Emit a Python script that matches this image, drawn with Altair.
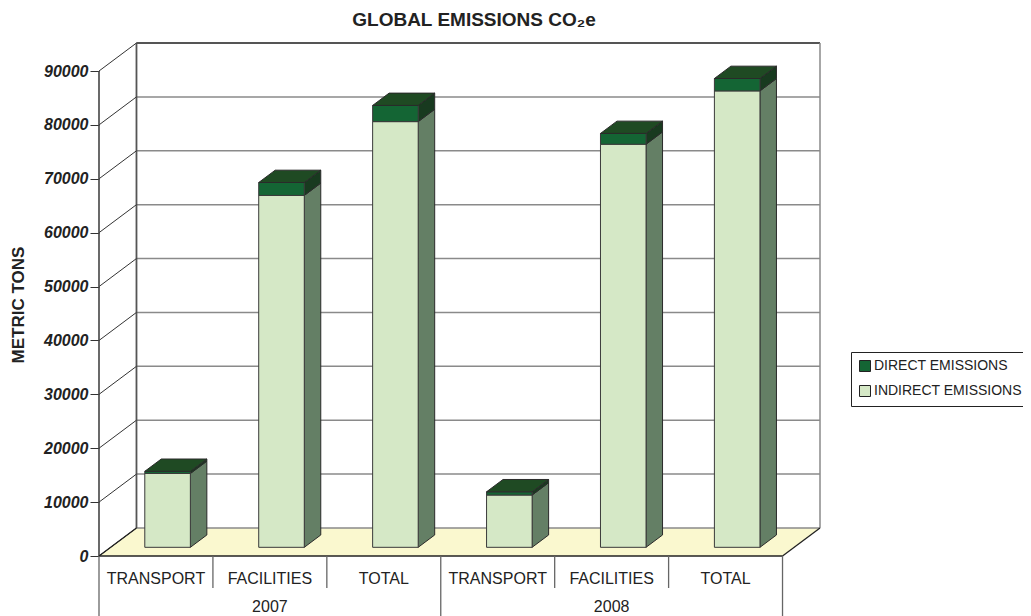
import altair as alt
import pandas as pd

# ---- data ----
years = ["2007", "2007", "2007", "2008", "2008", "2008"]
categories = ["TRANSPORT", "FACILITIES", "TOTAL", "TRANSPORT", "FACILITIES", "TOTAL"]
indirect = [13700, 65300, 79000, 9700, 74800, 84700]
direct = [400, 2400, 3000, 600, 2000, 2300]
series = ["DIRECT EMISSIONS", "INDIRECT EMISSIONS"]
ticks = [0, 10000, 20000, 30000, 40000, 50000, 60000, 70000, 80000, 90000]
year_list = ["2007", "2008"]

# ---- pseudo-3D geometry (in data units) ----
DX = 0.329      # depth shift along x (category slots)
DY = 5200       # depth shift along y (value units)
F0, F1 = 0.31, 0.75   # bar depth range (fraction of floor depth)
BW = 0.4        # bar width (fraction of slot)
NS = len(categories)
TOPV = ticks[-1]
YMAX = TOPV + DY
W, H = 721, 513

FONT = "Liberation Sans"
C_IND, C_IND_SIDE = "#D5E8C6", "#647F65"
C_DIR, C_DIR_SIDE, C_DIR_TOP = "#146534", "#183A1F", "#1F4A23"

xscale = alt.Scale(domain=[0, NS + DX], nice=False, zero=False)
yscale = alt.Scale(domain=[0, YMAX], nice=False, zero=False)
yaxis = alt.Axis(values=ticks, grid=False, domain=False, tickSize=9, tickColor="#333",
                 tickWidth=1, labelPadding=2, labelFont=FONT, labelFontSize=16,
                 labelFontWeight="bold", labelFontStyle="italic", labelColor="#222",
                 title=None, format="d")


def X(f):
    return alt.X(f, type="quantitative", scale=xscale, axis=None)


def Y(f):
    return alt.Y(f, type="quantitative", scale=yscale, axis=yaxis)


# build bar pieces
fronts, sides_ind, sides_dir, tops = [], [], [], []
for i in range(NS):
    xl = i + 0.5 - BW / 2 + F0 * DX
    xr = xl + BW
    d = F1 - F0
    segs = [("INDIRECT EMISSIONS", 0, indirect[i]),
            ("DIRECT EMISSIONS", indirect[i], indirect[i] + direct[i])]
    for s, lo, hi in segs:
        fronts.append(dict(series=s, x=xl, x2=xr, y=lo + F0 * DY, y2=hi + F0 * DY))
        tgt = sides_ind if s.startswith("INDIRECT") else sides_dir
        fid = f"{i}-{s}"
        tgt.append(dict(face=fid, x=xr, y=lo + F0 * DY, y2=hi + F0 * DY))
        tgt.append(dict(face=fid, x=xr + d * DX, y=lo + F1 * DY, y2=hi + F1 * DY))
    top = indirect[i] + direct[i]
    tops.append(dict(face=i, y=top + F0 * DY, x=xl, x2=xr))
    tops.append(dict(face=i, y=top + F1 * DY, x=xl + d * DX, x2=xr + d * DX))

fronts = pd.DataFrame(fronts)
sides_ind = pd.DataFrame(sides_ind)
sides_dir = pd.DataFrame(sides_dir)
tops = pd.DataFrame(tops)

# walls / floor
floor = pd.DataFrame(dict(y=[0, DY], x=[0, DX], x2=[NS, NS + DX]))
grid = pd.DataFrame(dict(x=[DX] * len(ticks), x2=[NS + DX] * len(ticks),
                         y=[v + DY for v in ticks]))
slants = pd.DataFrame(dict(x=[0] * len(ticks), x2=[DX] * len(ticks), y=ticks,
                           y2=[v + DY for v in ticks]))
back_edges = pd.DataFrame(dict(x=[DX, DX], x2=[DX, NS + DX], y=[DY, YMAX], y2=[YMAX, YMAX]))
right_edge = pd.DataFrame(dict(x=[NS + DX], y=[DY], y2=[YMAX]))
front_axis = pd.DataFrame(dict(x=[0], y=[0], y2=[TOPV]))
floor_edges = pd.DataFrame(dict(x=[0, NS, 0], x2=[NS, NS + DX, DX], y=[0, 0, 0], y2=[0, DY, DY]))

# category table
cat_df = pd.DataFrame(dict(x=[i + 0.5 for i in range(NS)], label=categories))
year_df = pd.DataFrame(dict(x=[1.5, 4.5], label=year_list))
short_div = pd.DataFrame(dict(x=[1, 2, 4, 5]))
long_div = pd.DataFrame(dict(x=[0, 3, 6]))

layers = [
    alt.Chart(floor).mark_area(orient="horizontal", fill="#FAF8CF", stroke=None)
    .encode(y=Y("y"), x=X("x"), x2="x2"),
    alt.Chart(grid).mark_rule(color="#8A8A8A", strokeWidth=1.5)
    .encode(x=X("x"), x2="x2", y=Y("y")),
    alt.Chart(back_edges).mark_rule(color="#555", strokeWidth=1.8)
    .encode(x=X("x"), x2="x2", y=Y("y"), y2="y2"),
    alt.Chart(right_edge).mark_rule(color="#8A8A8A", strokeWidth=1.5)
    .encode(x=X("x"), y=Y("y"), y2="y2"),
    alt.Chart(slants).mark_rule(color="#333", strokeWidth=1)
    .encode(x=X("x"), x2="x2", y=Y("y"), y2="y2"),
    alt.Chart(front_axis).mark_rule(color="#444", strokeWidth=1.6)
    .encode(x=X("x"), y=Y("y"), y2="y2"),
    alt.Chart(floor_edges).mark_rule(color="#222", strokeWidth=1.3)
    .encode(x=X("x"), x2="x2", y=Y("y"), y2="y2"),
    # bars
    alt.Chart(sides_ind).mark_area(fill=C_IND_SIDE, stroke="#2a2a2a", strokeWidth=1)
    .encode(x=X("x"), y=Y("y"), y2="y2", detail="face:N"),
    alt.Chart(sides_dir).mark_area(fill=C_DIR_SIDE, stroke="#2a2a2a", strokeWidth=1)
    .encode(x=X("x"), y=Y("y"), y2="y2", detail="face:N"),
    alt.Chart(fronts).mark_rect(stroke="#3a3a3a", strokeWidth=1)
    .encode(x=X("x"), x2="x2", y=Y("y"), y2="y2",
            color=alt.Color("series:N",
                            scale=alt.Scale(domain=series, range=[C_DIR, C_IND]),
                            legend=alt.Legend(orient="none", legendX=752, legendY=309,
                                              title=None, padding=7, strokeColor="#222",
                                              fillColor="white", symbolType="square",
                                              symbolSize=121, symbolStrokeColor="#222",
                                              symbolStrokeWidth=1, labelFont=FONT,
                                              labelFontSize=14, labelColor="#222",
                                              labelOffset=2, rowPadding=9))),
    alt.Chart(tops).mark_area(orient="horizontal", fill=C_DIR_TOP, stroke="#2a2a2a",
                              strokeWidth=1)
    .encode(y=Y("y"), x=X("x"), x2="x2", detail="face:N"),
    # category table
    alt.Chart(short_div).mark_rule(color="#666", strokeWidth=1.3)
    .encode(x=X("x"), y=alt.value(H), y2=alt.value(H + 32)),
    alt.Chart(long_div).mark_rule(color="#666", strokeWidth=1.3)
    .encode(x=X("x"), y=alt.value(H), y2=alt.value(H + 70)),
    alt.Chart(cat_df).mark_text(font=FONT, fontSize=16, color="#222", baseline="middle")
    .encode(x=X("x"), y=alt.value(H + 23), text="label:N"),
    alt.Chart(year_df).mark_text(font=FONT, fontSize=16, color="#222", baseline="middle")
    .encode(x=X("x"), y=alt.value(H + 51), text="label:N"),
    # titles
    alt.Chart(pd.DataFrame(dict(t=["GLOBAL EMISSIONS CO\u2082e"])))
    .mark_text(font=FONT, fontSize=19, fontWeight="bold", color="#222", baseline="middle")
    .encode(x=alt.value(375), y=alt.value(-23), text="t:N"),
    alt.Chart(pd.DataFrame(dict(t=["METRIC TONS"])))
    .mark_text(font=FONT, fontSize=17, fontWeight="bold", color="#222", baseline="middle",
               angle=270)
    .encode(x=alt.value(-80), y=alt.value(262), text="t:N"),
]

chart = alt.layer(*layers).properties(
    width=W, height=H,
    autosize=alt.AutoSizeParams(type="none"),
    padding={"left": 91, "top": 35, "right": 203, "bottom": 60},
    background="white",
).configure_view(stroke=None)

chart.save("out.html", embed_options={"renderer": "svg", "actions": False})
